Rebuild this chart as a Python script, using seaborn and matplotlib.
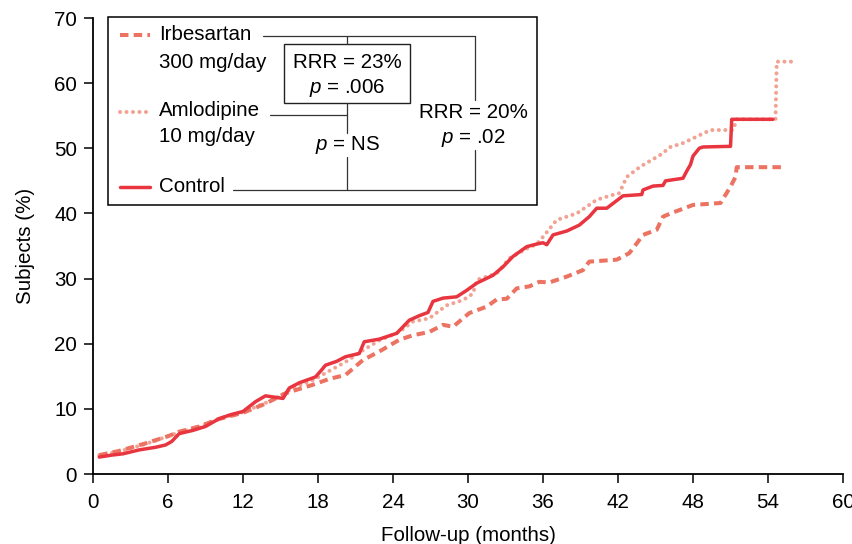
import numpy as np
import pandas as pd
import seaborn as sns
import matplotlib.pyplot as plt
from matplotlib.lines import Line2D
from matplotlib.patches import Rectangle

# cumulative event curves (months, % subjects)
control_x = [0.5, 1.5, 2.4, 3.7, 5.0, 5.8, 6.3, 6.6, 6.9, 8.0, 9.0, 10.1, 11.0, 12.0, 13.0, 13.8, 14.5,
             15.2, 15.7, 16.5, 17.8, 18.3, 18.6, 19.5, 20.2, 21.3, 21.7, 22.9, 24.3, 25.3, 26.1, 26.8,
             27.2, 28.0, 29.1, 29.9, 30.7, 32.0, 32.8, 33.6, 34.7, 35.5, 36.0, 36.3, 36.8, 37.9, 38.9,
             39.7, 40.3, 41.1, 42.4, 43.9, 44.0, 44.8, 45.6, 45.8, 47.2, 47.5, 47.8, 48.0, 48.5, 48.8,
             51.0, 51.1, 54.4]
control_y = [2.6, 2.9, 3.1, 3.7, 4.1, 4.45, 5.0, 5.6, 6.2, 6.7, 7.3, 8.5, 9.1, 9.6, 11.1, 12.0, 11.8,
             11.6, 13.2, 14.0, 14.9, 16.0, 16.7, 17.3, 18.0, 18.5, 20.3, 20.7, 21.6, 23.6, 24.3, 24.8,
             26.5, 27.0, 27.2, 28.2, 29.3, 30.5, 31.8, 33.4, 34.9, 35.3, 35.5, 35.2, 36.7, 37.3, 38.2,
             39.5, 40.8, 40.8, 42.7, 42.9, 43.6, 44.2, 44.3, 45.0, 45.4, 46.5, 47.5, 48.8, 50.0, 50.2,
             50.3, 54.45, 54.45]

amlo_x = [0.5, 2.0, 4.2, 6.9, 8.5, 10.1, 12.0, 13.8, 14.9, 16.0, 17.6, 18.6, 20.2, 21.6, 22.9, 24.5,
          25.6, 26.9, 28.3, 29.6, 30.4, 30.7, 32.3, 33.3, 34.7, 35.5, 36.0, 37.1, 38.7, 40.3, 41.5,
          42.1, 42.7, 43.8, 45.4, 46.2, 47.2, 48.3, 49.4, 51.2, 51.5, 54.6, 54.7, 56.0]
amlo_y = [2.9, 3.4, 4.6, 6.4, 7.2, 8.5, 9.5, 10.9, 11.9, 13.2, 14.4, 15.5, 17.2, 19.0, 20.5, 21.8,
          23.4, 23.9, 25.9, 26.7, 27.7, 29.8, 30.8, 33.1, 34.6, 35.3, 36.4, 39.0, 40.0, 42.1, 42.8,
          43.1, 45.6, 47.2, 49.0, 50.2, 50.8, 51.8, 52.8, 52.8, 54.45, 54.45, 63.3, 63.3]

irbe_x = [0.5, 2.0, 4.2, 6.0, 6.9, 8.5, 10.0, 12.0, 13.8, 15.4, 17.6, 18.9, 20.2, 21.6, 22.9, 24.5,
          25.6, 26.9, 28.0, 28.8, 30.1, 31.5, 32.3, 33.1, 33.9, 34.9, 35.7, 36.5, 37.9, 39.2, 39.7,
          41.9, 42.9, 43.5, 44.0, 45.1, 45.6, 46.2, 48.0, 50.2, 51.0, 51.4, 51.5, 55.2]
irbe_y = [2.9, 3.5, 4.7, 5.8, 6.5, 7.3, 8.4, 9.4, 10.8, 12.4, 13.7, 14.6, 15.2, 17.5, 18.8, 20.6,
          21.3, 21.8, 22.9, 22.6, 24.7, 25.7, 26.8, 26.9, 28.5, 28.8, 29.5, 29.4, 30.3, 31.3, 32.6,
          32.9, 33.9, 35.4, 36.7, 37.5, 39.5, 40.0, 41.3, 41.6, 44.1, 45.6, 47.1, 47.1]

x_ticks = list(range(0, 61, 6))
y_ticks = list(range(0, 71, 10))

c_control = "#e8353f"
c_irbe = "#ec7262"
c_amlo = "#f2a293"

sns.set_style("ticks")
plt.rcParams['font.family'] = ['Liberation Sans', 'DejaVu Sans']
plt.rcParams['mathtext.fontset'] = 'custom'
plt.rcParams['mathtext.it'] = 'Liberation Sans:italic'
plt.rcParams['mathtext.rm'] = 'Liberation Sans'
for key in ['text.color', 'axes.labelcolor', 'xtick.color', 'ytick.color']:
    plt.rcParams[key] = 'black'

FS = 14.8
W, H = 853, 544
fig = plt.figure(figsize=(W / 100, H / 100), dpi=100)
ax = fig.add_axes([93 / W, 1 - 474 / H, (843 - 93) / W, (474 - 18) / H])

dot_style = (0, (0.01, 1.6))
dash_style = (0, (2.1, 1.3))

sns.lineplot(x=amlo_x, y=amlo_y, ax=ax, color=c_amlo, lw=2.9, sort=False,
             linestyle=dot_style, dash_capstyle='round')
sns.lineplot(x=irbe_x, y=irbe_y, ax=ax, color=c_irbe, lw=2.9, sort=False,
             linestyle=dash_style)
sns.lineplot(x=control_x, y=control_y, ax=ax, color=c_control, lw=2.5, sort=False)

ax.set_xlim(0, 60)
ax.set_ylim(0, 70)
ax.set_xticks(x_ticks)
ax.set_yticks(y_ticks)
ax.tick_params(labelsize=FS, length=6.5, width=1.1, color='black', labelcolor='black', pad=5)
ax.tick_params(axis='x', pad=7)
sns.despine(ax=ax)
for s in ['left', 'bottom']:
    ax.spines[s].set_linewidth(1.3)
    ax.spines[s].set_color('black')
ax.set_xlabel('Follow-up (months)', fontsize=FS, labelpad=10, color='black')
ax.set_ylabel('Subjects (%)', fontsize=FS, labelpad=14, color='black')


# legend / annotation block in pixel coordinates
def px(x, y):
    return x / W, 1 - y / H


def seg(x0, y0, x1, y1, **kw):
    a, b = px(x0, y0)
    c, d = px(x1, y1)
    fig.add_artist(Line2D([a, c], [b, d], transform=fig.transFigure, **kw))


def txt(x, y, s, ha='left'):
    a, b = px(x, y)
    fig.text(a, b, s, ha=ha, va='center', fontsize=FS, color='black')


bx0, by0 = px(108, 205)
bx1, by1 = px(537, 17)
fig.add_artist(Rectangle((bx0, by0), bx1 - bx0, by1 - by0, transform=fig.transFigure,
                         fill=True, facecolor='white', edgecolor='black', lw=1.1))

seg(120, 35, 150, 35, color=c_irbe, lw=2.9, linestyle=dash_style)
seg(120, 112, 150, 112, color=c_amlo, lw=2.9, linestyle=dot_style, dash_capstyle='round')
seg(120, 187, 150, 187, color=c_control, lw=2.5)

txt(159, 35, 'Irbesartan')
txt(159, 63, '300 mg/day')
txt(159, 111, 'Amlodipine')
txt(159, 137, '10 mg/day')
txt(159, 186, 'Control')

k = dict(color='#333333', lw=0.9)
seg(263, 36, 475, 36, **k)
seg(347, 36, 347, 44, **k)
seg(347, 103, 347, 133, **k)
seg(270, 115, 347, 115, **k)
seg(347, 157, 347, 190, **k)
seg(233, 190, 475, 190, **k)
seg(475, 36, 475, 100, **k)
seg(475, 150, 475, 190, **k)

rx0, ry0 = px(284, 103)
rx1, ry1 = px(410, 44)
fig.add_artist(Rectangle((rx0, ry0), rx1 - rx0, ry1 - ry0, transform=fig.transFigure,
                         fill=False, edgecolor='#222222', lw=1.0))

txt(347, 62, 'RRR = 23%', ha='center')
txt(347, 88, '$p$ = .006', ha='center')
txt(347, 145, '$p$ = NS', ha='center')
txt(473, 113, 'RRR = 20%', ha='center')
txt(473, 138, '$p$ = .02', ha='center')

fig.savefig('out.png', dpi=100)
